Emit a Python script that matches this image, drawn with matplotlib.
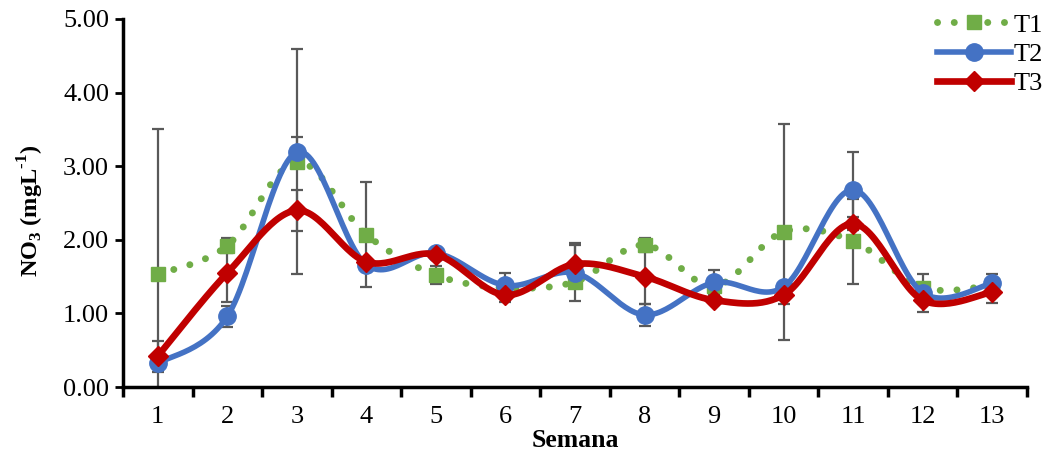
import numpy as np
import matplotlib
matplotlib.use("Agg")
import matplotlib.pyplot as plt
from matplotlib.lines import Line2D

plt.rcParams['font.family'] = 'Liberation Serif'
plt.rcParams['mathtext.fontset'] = 'custom'
plt.rcParams['mathtext.rm'] = 'Liberation Serif:bold'
plt.rcParams['mathtext.bf'] = 'Liberation Serif:bold'

semanas = np.arange(1, 14)
t1 = [1.53, 1.92, 3.06, 2.07, 1.52, 1.35, 1.43, 1.93, 1.37, 2.11, 1.98, 1.35, 1.38]
t2 = [0.32, 0.96, 3.19, 1.66, 1.82, 1.38, 1.55, 0.98, 1.42, 1.36, 2.68, 1.28, 1.41]
t3 = [0.42, 1.55, 2.40, 1.70, 1.80, 1.25, 1.67, 1.50, 1.18, 1.25, 2.22, 1.18, 1.29]

# desviaciones (0 = sin barra)
e1 = [1.97, 0.10, 1.53, 0.71, 0.12, 0.20, 0.00, 0.09, 0.00, 1.47, 0.58, 0.00, 0.00]
e2 = [0.00, 0.14, 0.21, 0.00, 0.00, 0.00, 0.38, 0.15, 0.17, 0.00, 0.51, 0.26, 0.13]
e3 = [0.21, 0.40, 0.28, 0.00, 0.00, 0.00, 0.29, 0.37, 0.00, 0.12, 0.09, 0.00, 0.15]


def smooth(x, y, n=30):
    # curva suavizada tipo Catmull-Rom (como las lineas suavizadas de Excel)
    x = np.asarray(x, float)
    y = np.asarray(y, float)
    px = np.concatenate([[x[0]], x, [x[-1]]])
    py = np.concatenate([[y[0]], y, [y[-1]]])
    xs, ys = [], []
    t = np.linspace(0, 1, n)
    for i in range(1, len(px) - 2):
        p0 = np.array([px[i], py[i]])
        p3 = np.array([px[i + 1], py[i + 1]])
        c1 = p0 + (p3 - np.array([px[i - 1], py[i - 1]])) / 6
        c2 = p3 - (np.array([px[i + 2], py[i + 2]]) - p0) / 6
        b = ((1 - t) ** 3)[:, None] * p0 + (3 * (1 - t) ** 2 * t)[:, None] * c1 \
            + (3 * (1 - t) * t ** 2)[:, None] * c2 + (t ** 3)[:, None] * p3
        xs.extend(b[:, 0])
        ys.extend(b[:, 1])
    return xs, ys


fig = plt.figure(figsize=(10.5, 4.53), dpi=100)
ax = fig.add_axes([123 / 1050, 1 - 387 / 453, (1027 - 123) / 1050, (387 - 19) / 453])

series = [
    (t1, e1, '#70AD47', 's', 10, 5.0, (0, (0.01, 2.4)), 'T1'),
    (t2, e2, '#4472C4', 'o', 12.5, 4.0, '-', 'T2'),
    (t3, e3, '#C00000', 'D', 10.5, 4.8, '-', 'T3'),
]

for vals, errs, color, mk, ms, lw, ls, name in series:
    vals = np.array(vals)
    errs = np.array(errs)
    m = errs > 0
    ax.errorbar(semanas[m], vals[m], yerr=errs[m], fmt='none', ecolor='#595959',
                elinewidth=1.6, capsize=4.5, capthick=1.6, zorder=2)

handles = []
for i, (vals, errs, color, mk, ms, lw, ls, name) in enumerate(series):
    xs, ys = smooth(semanas, vals)
    ax.plot(xs, ys, color=color, lw=lw, linestyle=ls, dash_capstyle='round',
            solid_capstyle='round', zorder=3 + i)
    ax.plot(semanas, vals, linestyle='none', marker=mk, markersize=ms,
            color=color, markeredgecolor=color, zorder=3 + i)
    handles.append(Line2D([], [], color=color, lw=lw, linestyle=ls,
                          dash_capstyle='round', marker=mk, markersize=ms,
                          markeredgecolor=color))

ax.set_xlim(0.5, 13.5)
ax.set_ylim(0, 5)
ax.set_yticks(np.arange(0, 5.01, 1))
ax.set_yticklabels([f'{v:.2f}' for v in np.arange(0, 5.01, 1)])
ax.set_xticks(semanas)
ax.set_xticks(np.arange(0.5, 13.6, 1), minor=True)
ax.tick_params(axis='x', which='major', length=0, labelsize=19, pad=14)
ax.tick_params(axis='x', which='minor', length=7, width=2.5, direction='out')
ax.tick_params(axis='y', length=6, width=2, labelsize=19, pad=4)

for s in ['top', 'right']:
    ax.spines[s].set_visible(False)
for s in ['left', 'bottom']:
    ax.spines[s].set_linewidth(2.5)

ax.set_xlabel('Semana', fontsize=18.5, fontweight='bold')
ax.xaxis.set_label_coords(0.5, -0.115)
ax.set_ylabel(r'NO$_{3}$ (mgL$^{\text{-1}}$)', fontsize=17.5,
              fontweight='bold')
ax.yaxis.set_label_coords(-0.085, 0.48)

fig.legend(handles=handles, labels=['T1', 'T2', 'T3'], loc='upper right',
           bbox_to_anchor=(1.006, 1.0), frameon=False, fontsize=19,
           handlelength=2.8, handletextpad=0.1, labelspacing=0.22,
           borderaxespad=0.1)

fig.savefig('out.png', dpi=100)
